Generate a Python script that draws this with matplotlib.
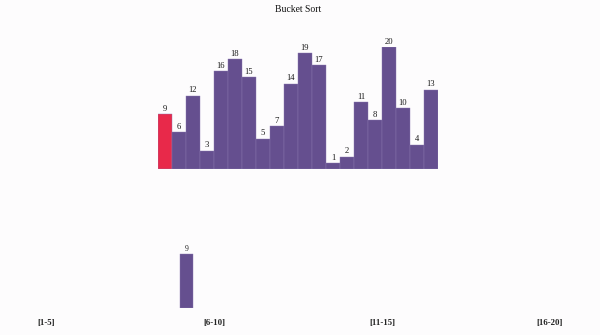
import matplotlib.pyplot as plt

# ---- data ----
values = [9, 6, 12, 3, 16, 18, 15, 5, 7, 14, 19, 17, 1, 2, 11, 8, 20, 10, 4, 13]
current_idx = 0  # the element being moved (red)
bucket_labels = ["[1-5]", "[6-10]", "[11-15]", "[16-20]"]
bucket_contents = [[], [9], [], []]

purple = "#654f8f"
red = "#e8294a"
W, H = 600, 335
BW = 168.0  # bucket spacing in px

plt.rcParams['font.family'] = ['Liberation Serif', 'DejaVu Serif']

fig = plt.figure(figsize=(W / 100, H / 100), dpi=100)
fig.patch.set_facecolor("#fdfcfd")

def px_axes(left, baseline, width, height):
    # left/width in px, baseline y (from top) and height in px
    return fig.add_axes([left / W, (H - baseline) / H, width / W, height / H])

# ---- top row: the unsorted array ----
ax = px_axes(158, 169, 280, 122)
xs = list(range(len(values)))
cols = [red if i == current_idx else purple for i in xs]
ax.bar(xs, values, width=0.93, color=cols, edgecolor="#8a78b0", linewidth=0.3)
for x, v in zip(xs, values):
    ax.annotate(str(v), (x, v), xytext=(0, 1.0), textcoords="offset points",
                ha="center", va="bottom", fontsize=6.2, color="#1a1a1a")
ax.set_xlim(-0.5, len(values) - 0.5)
ax.set_ylim(0, 20)
ax.axis("off")

fig.text(298.5 / W, 1 - 9 / H, "Bucket Sort", ha="center", va="center",
         fontsize=6.9, color="#111111")

# ---- bottom row: buckets ----
bx = px_axes(0, 308, W, 120)
bx.set_xlim(0, W / BW)
bx.set_ylim(0, 20)
bx.axis("off")
bar_w = 13 / BW
for b, (lab, items) in enumerate(zip(bucket_labels, bucket_contents)):
    bx.text(b + 46 / BW, -15.5 / 6.0, lab, ha="center", va="center",
            fontsize=6.3, fontweight="bold", color="#222222")
    for k, v in enumerate(items):
        x0 = b + 12 / BW + k * 14 / BW
        bx.bar(x0, v, width=bar_w, align="edge", color=purple,
               edgecolor="#8a78b0", linewidth=0.3)
        bx.annotate(str(v), (x0 + bar_w / 2, v), xytext=(0, 1.0), textcoords="offset points",
                    ha="center", va="bottom", fontsize=5.5, color="#222222")

fig.savefig("out.png", dpi=100, facecolor=fig.get_facecolor())
